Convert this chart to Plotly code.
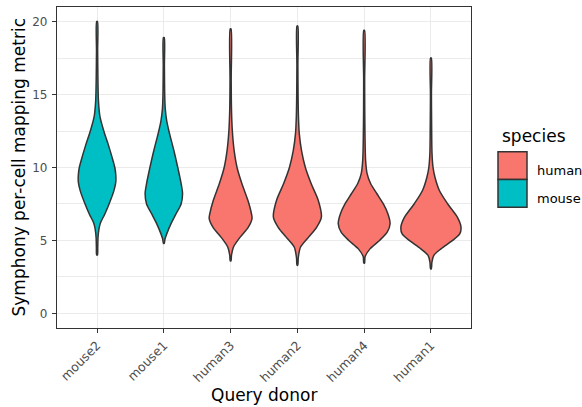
import plotly.graph_objects as go

# Query donors in plotting order and their species
donors = ["mouse2", "mouse1", "human3", "human2", "human4", "human1"]
species = ["mouse", "mouse", "human", "human", "human", "human"]
species_levels = ["human", "mouse"]
species_colors = {"human": "#F8766D", "mouse": "#00BFC4"}

# Violin profiles: metric values and relative density at each value
mouse2_vals = [4.0, 4.5, 5.2, 5.8, 6.2, 6.8, 7.5, 8.4, 9.0, 9.5, 10.0, 10.5, 11.5, 12.5, 13.5, 14.5, 16.0, 18.0, 20.0]
mouse2_dens = [0.4, 0.7, 1.0, 2.0, 3.5, 8.0, 12.5, 17.5, 19.5, 19.5, 18.5, 16.5, 12.0, 7.0, 3.0, 1.5, 0.9, 0.6, 0.4]

mouse1_vals = [4.8, 5.1, 5.45, 6.15, 6.8, 7.5, 8.2, 8.9, 10.0, 11.15, 12.3, 13.2, 14.0, 15.0, 17.0, 18.9]
mouse1_dens = [0.4, 1.2, 3.0, 7.5, 12.5, 18.0, 19.5, 18.0, 14.5, 10.5, 6.0, 3.0, 1.5, 0.9, 0.6, 0.4]

human3_vals = [3.6, 4.0, 4.55, 5.23, 5.9, 6.5, 6.83, 7.75, 8.9, 10.0, 11.15, 12.5, 14.0, 16.0, 19.5]
human3_dens = [0.4, 0.9, 3.0, 10.0, 18.3, 22.3, 21.7, 18.0, 11.7, 6.7, 3.7, 1.8, 0.9, 0.6, 0.4]

human2_vals = [3.3, 3.8, 4.55, 5.23, 5.9, 6.6, 7.75, 8.9, 10.0, 11.15, 12.3, 13.5, 15.0, 17.0, 19.7]
human2_dens = [0.4, 0.9, 3.3, 11.7, 20.0, 25.0, 21.7, 14.3, 8.3, 4.3, 2.0, 1.1, 0.7, 0.5, 0.4]

human4_vals = [3.45, 3.9, 4.44, 5.0, 5.57, 6.15, 6.83, 7.5, 8.2, 8.9, 9.6, 10.5, 12.0, 14.0, 16.0, 19.4]
human4_dens = [0.4, 1.0, 6.3, 16.0, 24.0, 27.0, 24.7, 20.0, 13.3, 6.7, 3.0, 1.5, 0.9, 0.6, 0.5, 0.4]

human1_vals = [3.05, 3.5, 3.98, 4.44, 5.0, 5.45, 5.92, 6.6, 7.5, 8.42, 9.33, 10.0, 11.0, 13.0, 15.0, 17.5]
human1_dens = [0.4, 1.0, 3.0, 10.8, 22.5, 30.0, 31.3, 27.5, 17.5, 8.8, 4.2, 2.2, 1.1, 0.7, 0.5, 0.4]

profiles = [
    (mouse2_vals, mouse2_dens),
    (mouse1_vals, mouse1_dens),
    (human3_vals, human3_dens),
    (human2_vals, human2_dens),
    (human4_vals, human4_dens),
    (human1_vals, human1_dens),
]

y_ticks = [0, 5, 10, 15, 20]

FONT = "DejaVu Sans"
OUTLINE = "#333333"
GRID = "#EBEBEB"

# Common density scale: the widest violin spans 0.9 of a category slot
max_dens = max(max(d) for _, d in profiles)
half_max = 0.45

fig = go.Figure()
for i, (name, sp, (vals, dens)) in enumerate(zip(donors, species, profiles)):
    half = [d / max_dens * half_max for d in dens]
    xs = [i + h for h in half] + [i - h for h in reversed(half)] + [i + half[0]]
    ys = list(vals) + list(reversed(vals)) + [vals[0]]
    fig.add_trace(go.Scatter(
        x=xs, y=ys, mode="lines", fill="toself",
        fillcolor=species_colors[sp],
        line=dict(color=OUTLINE, width=1.5, shape="spline", smoothing=0.8),
        name=name, showlegend=False, hoverinfo="skip",
    ))

W, H = 582, 407
ml, mr, mt, mb = 57, 111, 7, 79
pw, ph = W - ml - mr, H - mt - mb

def px_x(px):
    return (px - ml) / pw

def px_y(py):
    return (H - mb - py) / ph

# Legend drawn as keyed boxes beside the panel
shapes = []
annotations = [
    dict(text="species", x=px_x(500), y=px_y(136), xref="paper", yref="paper",
         xanchor="left", yanchor="middle", showarrow=False,
         font=dict(family=FONT, size=17, color="black")),
]
key_top = 151.7
key_h = 27.8
for k, sp in enumerate(species_levels):
    y0 = key_top + k * key_h
    shapes.append(dict(type="rect", xref="paper", yref="paper",
                       x0=px_x(498), x1=px_x(527), y0=px_y(y0), y1=px_y(y0 + key_h),
                       fillcolor=species_colors[sp], line=dict(color=OUTLINE, width=1.5)))
    annotations.append(dict(text=sp, x=px_x(535), y=px_y(y0 + key_h / 2 + 5),
                            xref="paper", yref="paper", xanchor="left", yanchor="middle",
                            showarrow=False, font=dict(family=FONT, size=13, color="black")))

# Axis titles
annotations.append(dict(text="Query donor", x=0.5, y=px_y(395), xref="paper", yref="paper",
                        xanchor="center", yanchor="middle", showarrow=False,
                        font=dict(family=FONT, size=17, color="black")))
annotations.append(dict(text="Symphony per-cell mapping metric", x=px_x(18), y=0.5,
                        xref="paper", yref="paper", xanchor="center", yanchor="middle",
                        textangle=-90, showarrow=False,
                        font=dict(family=FONT, size=17, color="black")))

fig.update_layout(
    width=W, height=H,
    margin=dict(l=ml, r=mr, t=mt, b=mb, autoexpand=False),
    paper_bgcolor="white", plot_bgcolor="white",
    font=dict(family=FONT, size=12, color="#4D4D4D"),
    shapes=shapes, annotations=annotations,
    showlegend=False,
)
fig.update_xaxes(
    range=[-0.6, len(donors) - 0.4],
    tickmode="array", tickvals=list(range(len(donors))), ticktext=donors,
    tickangle=-45, ticks="outside", ticklen=4, tickwidth=1, tickcolor=OUTLINE,
    tickfont=dict(family=FONT, size=12.5, color="#4D4D4D"),
    showgrid=True, gridcolor=GRID, gridwidth=1,
    showline=True, linecolor=OUTLINE, linewidth=1.2, mirror=True,
    zeroline=False, automargin=False,
)
fig.update_yaxes(
    range=[-1, 21],
    tickmode="array", tickvals=y_ticks,
    ticks="outside", ticklen=4, tickwidth=1, tickcolor=OUTLINE,
    tickfont=dict(family=FONT, size=12, color="#4D4D4D"),
    ticklabelstandoff=2,
    showgrid=True, gridcolor=GRID, gridwidth=1,
    minor=dict(tickmode="array", tickvals=[2.5, 7.5, 12.5, 17.5], showgrid=True,
               gridcolor=GRID, gridwidth=0.5, ticks=""),
    showline=True, linecolor=OUTLINE, linewidth=1.2, mirror=True,
    zeroline=False, automargin=False,
)

fig.write_html("out.html")
